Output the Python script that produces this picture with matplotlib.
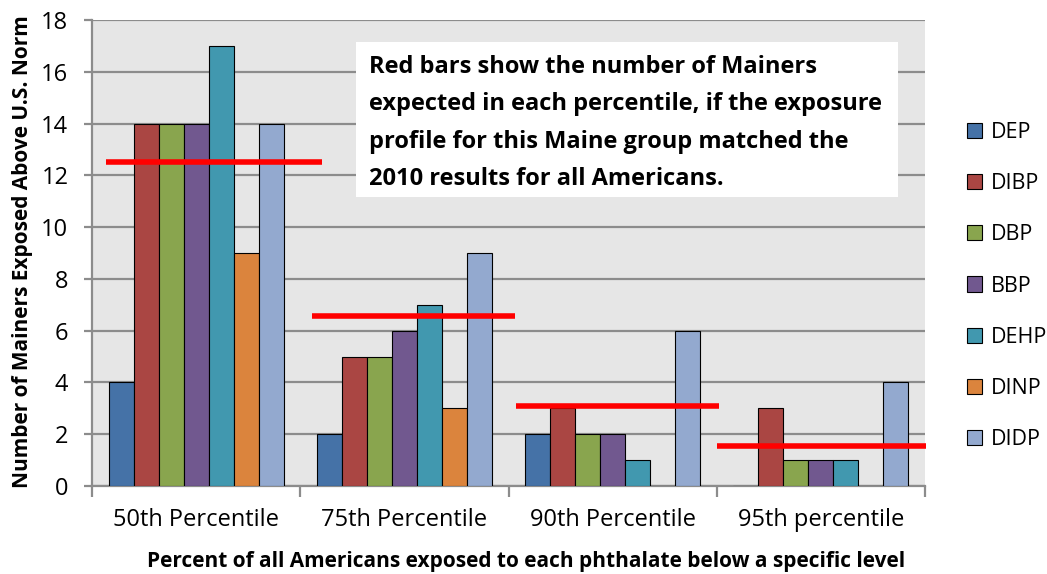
import numpy as np
import matplotlib as mpl
mpl.use('Agg')
import matplotlib.pyplot as plt
from matplotlib.patches import Patch, Rectangle

plt.rcParams['font.family'] = ['Open Sans', 'DejaVu Sans']

categories = ['50th Percentile', '75th Percentile', '90th Percentile', '95th percentile']
phthalates = ['DEP', 'DIBP', 'DBP', 'BBP', 'DEHP', 'DINP', 'DIDP']
counts = {
    'DEP':  [4, 2, 2, 0],
    'DIBP': [14, 5, 3, 3],
    'DBP':  [14, 5, 2, 1],
    'BBP':  [14, 6, 2, 1],
    'DEHP': [17, 7, 1, 1],
    'DINP': [9, 3, 0, 0],
    'DIDP': [14, 9, 6, 4],
}
expected = [12.5, 6.55, 3.1, 1.55]
yticks = [0, 2, 4, 6, 8, 10, 12, 14, 16, 18]

colors = ['#4572A7', '#AA4643', '#89A54E', '#71588F', '#4198AF', '#DB843D', '#93A9CF']
# left/right ends of the red lines, relative to category centre
red_ext = [(-0.433, 0.606), (-0.442, 0.529), (-0.462, 0.510), (-0.50, 0.505)]

fig = plt.figure(figsize=(10.47, 5.74), dpi=100)
ax = fig.add_axes([0.0879, 0.1533, 0.7956, 0.8118])
ax.set_facecolor('#E6E6E6')

x = np.arange(len(categories))
w = 0.12
for i, name in enumerate(phthalates):
    ax.bar(x + (i - 3) * w, counts[name], width=w, color=colors[i],
           edgecolor='black', linewidth=0.8, zorder=3)

for i, val in enumerate(expected):
    ax.plot([i + red_ext[i][0], i + red_ext[i][1]], [val, val], color='#FF0000',
            linewidth=4, solid_capstyle='butt', zorder=4, clip_on=False)

ax.set_xlim(-0.5, len(categories) - 0.5)
ax.set_ylim(0, 18)
ax.set_yticks(yticks)
ax.yaxis.grid(True, color='#8C8C8C', linewidth=1.6, zorder=0)
ax.set_axisbelow(True)

ax.set_xticks(x)
ax.set_xticklabels(categories, fontsize=17)
ax.set_xticks(np.arange(-0.5, len(categories)), minor=True)
ax.tick_params(axis='x', which='major', length=0, pad=16)
ax.tick_params(axis='x', which='minor', length=8, width=1.6, color='#8C8C8C')
ax.tick_params(axis='y', length=6, width=1.6, color='#8C8C8C', labelsize=17, pad=11)

for s in ['top', 'right']:
    ax.spines[s].set_visible(False)
for s in ['left', 'bottom']:
    ax.spines[s].set_color('#8C8C8C')
    ax.spines[s].set_linewidth(1.6)

ax.set_ylabel('Number of Mainers Exposed Above U.S. Norm', fontsize=15,
              fontweight='bold', va='center')
ax.yaxis.set_label_coords(-0.084, 0.504)
fig.text(526 / 1047, 1 - 562 / 574,
         'Percent of all Americans exposed to each phthalate below a specific level',
         ha='center', va='center', fontsize=15, fontweight='bold')

# white note box
ax.add_patch(Rectangle((0.317, 0.62), 0.651, 0.333, transform=ax.transAxes,
                       facecolor='white', edgecolor='none', zorder=5))
note = ('Red bars show the number of Mainers\n'
        'expected in each percentile, if the exposure\n'
        'profile for this Maine group matched the\n'
        '2010 results for all Americans.')
ax.text(0.332, 0.779, note, transform=ax.transAxes, ha='left', va='center',
        fontsize=17, fontweight='bold', linespacing=1.73, zorder=6)

handles = [Patch(facecolor=c, edgecolor='black', linewidth=0.8) for c in colors]
fig.legend(handles, phthalates, loc='upper left', bbox_to_anchor=(0.905, 0.821),
           frameon=False, fontsize=15.5, handlelength=0.7, handleheight=0.7,
           handletextpad=0.4, labelspacing=1.4)

fig.savefig('out.png', dpi=100)
